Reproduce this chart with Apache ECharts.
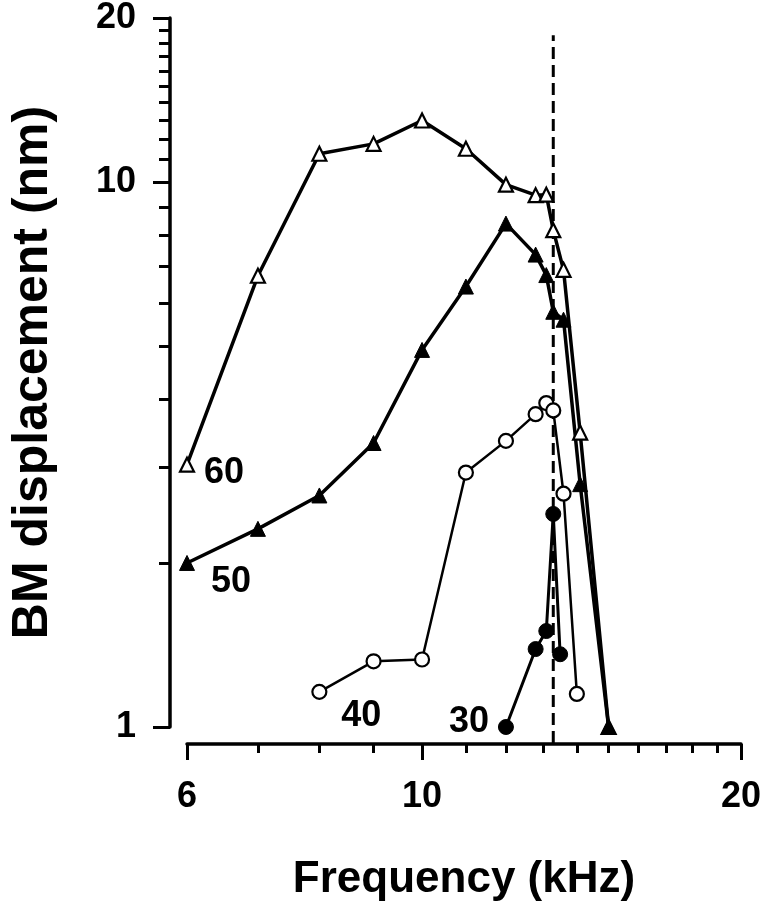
<!DOCTYPE html>
<html><head><meta charset="utf-8">
<script src="https://cdn.jsdelivr.net/npm/echarts@6/dist/echarts.min.js"></script>
<style>html,body{margin:0;padding:0;background:#fff}#c{width:764px;height:910px}</style>
</head><body><div id="c"></div>
<script>
// ---- data ----
const freq60 = [6, 7, 8, 9, 10, 11, 12, 12.8, 13.1, 13.3, 13.6, 14.1, 15];
const amp60  = [3.03, 6.73, 11.27, 11.75, 12.97, 11.51, 9.89, 9.46, 9.48, 8.16, 6.9, 3.47, 1.0];
const freq50 = [6, 7, 8, 9, 10, 11, 12, 12.8, 13.1, 13.3, 13.6, 14.1, 15];
const amp50  = [2.0, 2.31, 2.66, 3.32, 4.92, 6.43, 8.39, 7.36, 6.75, 5.78, 5.59, 2.79, 1.0];
const freq40 = [8, 9, 10, 11, 12, 12.8, 13.1, 13.3, 13.6, 14.0];
const amp40  = [1.16, 1.32, 1.33, 2.93, 3.35, 3.75, 3.93, 3.81, 2.68, 1.15];
const freq30 = [12, 12.8, 13.1, 13.3, 13.5];
const amp30  = [1.0, 1.39, 1.5, 2.46, 1.36];
const levelNames = ['60', '50', '40', '30'];
const cfFreq = 13.3;
const cfSpan = [0.935, 18.6];

const xMajorTicks = [6, 10, 20];
const xMinorTicks = [7, 8, 9, 11, 12, 13, 14, 15, 16, 17, 18, 19];
const yMajorTicks = [1, 10, 20];
const yMinorTicks = [2, 3, 4, 5, 6, 7, 8, 9, 11, 12, 13, 14, 15, 16, 17, 18, 19];
const xTickLabels = [6, 10, 20];
const yTickLabels = [1, 10, 20];
const xTitle = 'Frequency (kHz)';
const yTitle = 'BM displacement (nm)';

// ---- chart ----
const FONT = "'Liberation Sans', Arial, Helvetica, sans-serif";
const chart = echarts.init(document.getElementById('c'), null, {renderer: 'canvas'});

function build(fs, as, name, off) {
  return fs.map((f, i) => {
    const d = {value: [f, as[i]]};
    if (i === 0) {
      d.label = {show: true, formatter: name, position: 'inside', offset: off,
        fontSize: 36, fontWeight: 'bold', color: '#000', fontFamily: FONT};
    }
    return d;
  });
}

const axisCommon = {
  type: 'log', logBase: 10, splitLine: {show: false}, minorTick: {show: false}
};

const option = {
  backgroundColor: '#fff',
  animation: false,
  grid: {left: 183, right: 23, top: 15, bottom: 183, containLabel: false},
  xAxis: [
    Object.assign({}, axisCommon, {
      min: 6, max: 20, position: 'bottom', offset: 17,
      axisLine: {show: true, lineStyle: {color: '#000', width: 3.5}},
      axisTick: {show: true, customValues: xMinorTicks, length: 9, lineStyle: {color: '#000', width: 3}},
      axisLabel: {show: true, customValues: xTickLabels, margin: 35, fontSize: 36, fontWeight: 'bold',
        color: '#000', fontFamily: FONT},
      name: xTitle, nameLocation: 'middle', nameGap: 114,
      nameTextStyle: {fontSize: 44, fontWeight: 'bold', color: '#000', fontFamily: FONT}
    }),
    Object.assign({}, axisCommon, {
      min: 6, max: 20, position: 'bottom', offset: 17,
      axisLine: {show: false},
      axisTick: {show: true, customValues: xMajorTicks, length: 16, lineStyle: {color: '#000', width: 3}},
      axisLabel: {show: false}
    })
  ],
  yAxis: [
    Object.assign({}, axisCommon, {
      min: 1, max: 20, position: 'left', offset: 17,
      axisLine: {show: true, lineStyle: {color: '#000', width: 3.5}},
      axisTick: {show: true, customValues: yMinorTicks, length: 11, lineStyle: {color: '#000', width: 3}},
      axisLabel: {show: true, customValues: yTickLabels, margin: 34, fontSize: 36, fontWeight: 'bold',
        color: '#000', fontFamily: FONT},
      name: yTitle, nameLocation: 'middle', nameGap: 112, nameRotate: 90,
      nameTextStyle: {fontSize: 50, fontWeight: 'bold', color: '#000', fontFamily: FONT}
    }),
    Object.assign({}, axisCommon, {
      min: 1, max: 20, position: 'left', offset: 17,
      axisLine: {show: false},
      axisTick: {show: true, customValues: yMajorTicks, length: 17, lineStyle: {color: '#000', width: 3}},
      axisLabel: {show: false}
    })
  ],
  series: [
    {
      type: 'line', name: 'CF', xAxisIndex: 0, yAxisIndex: 0, clip: false, silent: true,
      symbol: 'none', data: [[cfFreq, cfSpan[0]], [cfFreq, cfSpan[1]]],
      lineStyle: {color: '#000', width: 3, type: [12, 6]}, z: 1
    },
    {
      type: 'line', name: levelNames[0], clip: false, z: 3,
      data: build(freq60, amp60, levelNames[0], [37, 8]),
      symbol: 'triangle', symbolSize: 14,
      lineStyle: {color: '#000', width: 3.5},
      itemStyle: {color: '#fff', borderColor: '#000', borderWidth: 2.2}
    },
    {
      type: 'line', name: levelNames[1], clip: false, z: 3,
      data: build(freq50, amp50, levelNames[1], [44, 19]),
      symbol: 'triangle', symbolSize: 15,
      lineStyle: {color: '#000', width: 3.5},
      itemStyle: {color: '#000', borderColor: '#000', borderWidth: 1}
    },
    {
      type: 'line', name: levelNames[2], clip: false, z: 3,
      data: build(freq40, amp40, levelNames[2], [42, 24]),
      symbol: 'circle', symbolSize: 14,
      lineStyle: {color: '#000', width: 2.5},
      itemStyle: {color: '#fff', borderColor: '#000', borderWidth: 2.2}
    },
    {
      type: 'line', name: levelNames[3], clip: false, z: 3,
      data: build(freq30, amp30, levelNames[3], [-37, -5]),
      symbol: 'circle', symbolSize: 15,
      lineStyle: {color: '#000', width: 3},
      itemStyle: {color: '#000', borderColor: '#000', borderWidth: 1}
    }
  ]
};
chart.setOption(option);
</script></body></html>
